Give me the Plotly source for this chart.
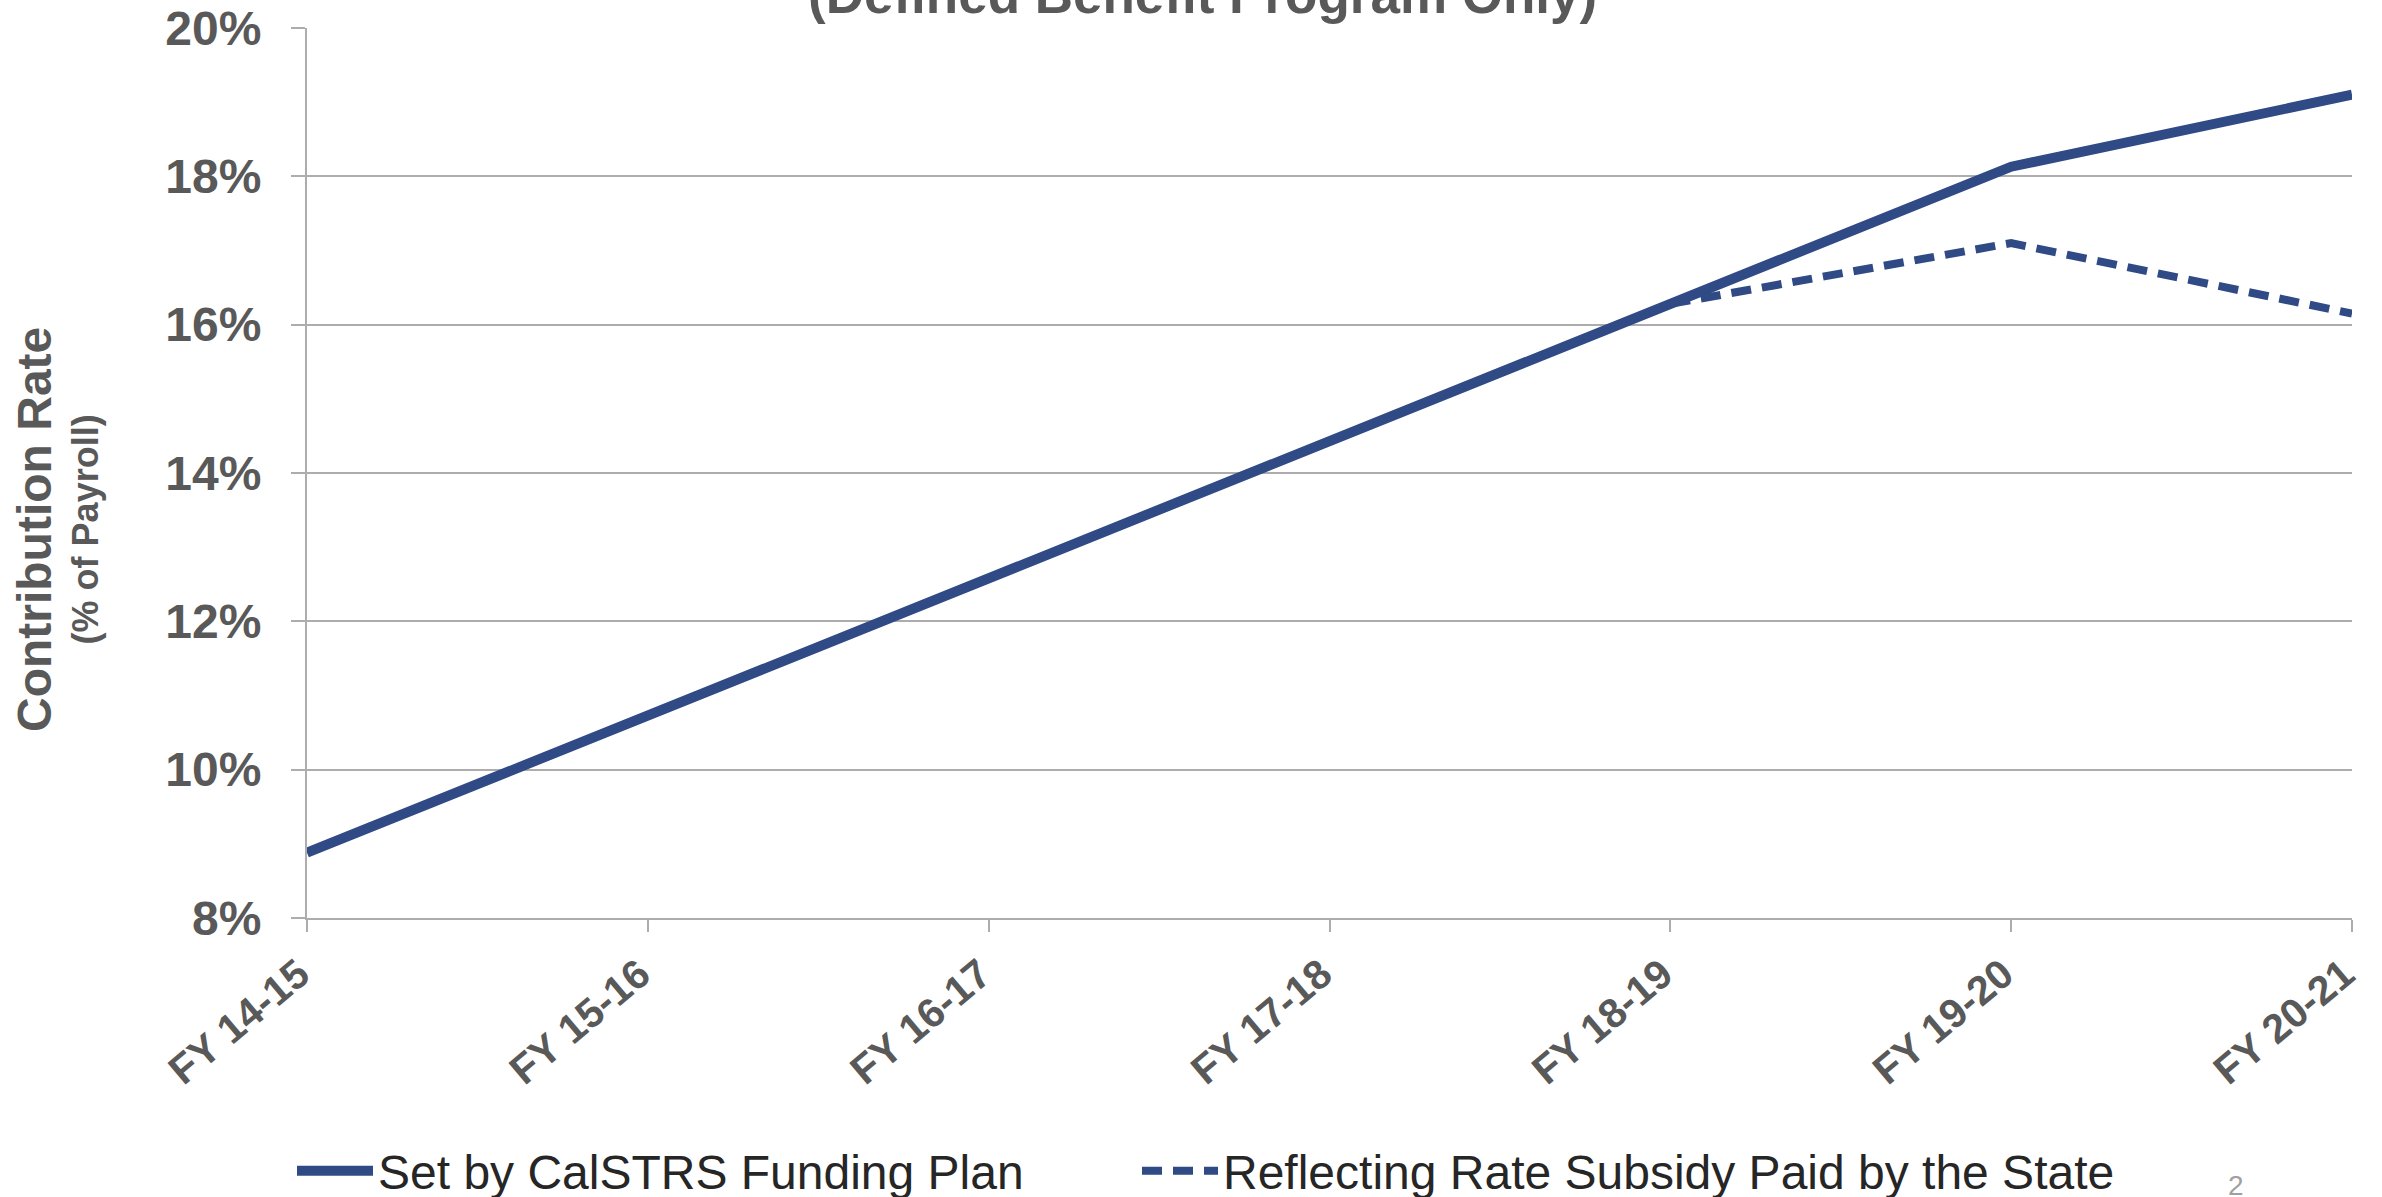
import plotly.graph_objects as go

categories = ["FY 14-15", "FY 15-16", "FY 16-17", "FY 17-18", "FY 18-19", "FY 19-20", "FY 20-21"]
funding_plan = [8.88, 10.73, 12.58, 14.43, 16.28, 18.13, 19.10]
state_subsidy = [None, None, None, None, 16.28, 17.10, 16.15]
y_ticks = [8, 10, 12, 14, 16, 18, 20]
y_tick_labels = ["8%", "10%", "12%", "14%", "16%", "18%", "20%"]

navy = "#2F4A85"
gray_text = "#595959"
grid = "#ADADAD"

W, H = 2382, 1197
ml, mr, mt, mb = 307, 30, 28, 279
ph = H - mt - mb
pw = W - ml - mr

fig = go.Figure()
fig.add_trace(go.Scatter(x=categories, y=funding_plan, mode="lines",
                         name="Set by CalSTRS Funding Plan", legend="legend",
                         line=dict(color=navy, width=10)))
fig.add_trace(go.Scatter(x=categories, y=state_subsidy, mode="lines",
                         name="Reflecting Rate Subsidy Paid by the State", legend="legend2",
                         line=dict(color=navy, width=8, dash="20px,11px")))

legend_common = dict(orientation="h", xanchor="left", yanchor="middle",
                     y=-(1171 - (H - mb)) / ph,
                     font=dict(size=48, color="#262626"),
                     itemwidth=76, bgcolor="rgba(0,0,0,0)")

fig.update_layout(
    width=W, height=H,
    margin=dict(l=ml, r=mr, t=mt, b=mb, pad=0, autoexpand=False),
    paper_bgcolor="white", plot_bgcolor="white",
    font=dict(family="Liberation Sans, Arial, sans-serif", color=gray_text),
    showlegend=True,
    legend=dict(x=(292 - ml) / pw, **legend_common),
    legend2=dict(x=(1137 - ml) / pw, **legend_common),
    xaxis=dict(type="category", range=[0, 6], showgrid=False, automargin=False,
               showline=True, linecolor=grid, linewidth=2,
               ticks="outside", ticklen=12, tickcolor=grid, tickwidth=2,
               tickangle=-40, ticklabelstandoff=2, ticklabelshift=-8,
               tickfont=dict(size=41, weight="bold", color=gray_text)),
    yaxis=dict(range=[8, 20], tickvals=y_ticks, ticktext=y_tick_labels, automargin=False,
               showgrid=True, gridcolor=grid, gridwidth=2,
               showline=True, linecolor=grid, linewidth=2,
               ticks="outside", ticklen=14, tickcolor=grid, tickwidth=2,
               ticklabelstandoff=20, zeroline=False,
               tickfont=dict(size=48, weight="bold", color=gray_text)),
)

fig.add_annotation(text="(Defined Benefit Program Only)", xref="paper", yref="paper",
                   x=(1202 - ml) / pw, y=1.0, xanchor="center", yanchor="bottom", yshift=2,
                   showarrow=False,
                   font=dict(size=53, weight="bold", color=gray_text))

fig.add_annotation(text="<span style='font-size:48px'>Contribution Rate</span><br>(% of Payroll)",
                   xref="paper", yref="paper",
                   x=(57 - ml) / pw, y=((H - mb) - 530) / ph,
                   xanchor="center", yanchor="middle", textangle=-90,
                   showarrow=False,
                   font=dict(size=36, weight="bold", color=gray_text))

fig.add_annotation(text="2", xref="paper", yref="paper",
                   x=(2236 - ml) / pw, y=-(1185 - (H - mb)) / ph,
                   xanchor="center", yanchor="middle", showarrow=False,
                   font=dict(size=28, color="#A0A0A0"))

fig.write_html("out.html", config={"displayModeBar": False},
               post_script="document.body.style.margin='0';document.body.style.overflow='hidden';")
